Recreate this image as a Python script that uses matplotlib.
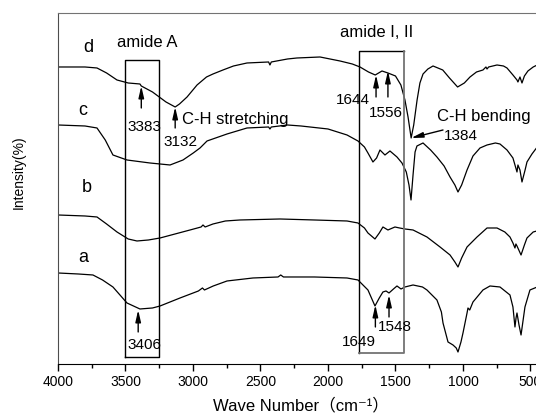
import matplotlib
matplotlib.use('Agg')
import matplotlib.pyplot as plt

plt.rcParams['font.family'] = ['Liberation Sans', 'DejaVu Sans', 'Noto Sans CJK SC']

# FTIR spectra, wavenumber (cm-1) and intensity (arbitrary units, offset per sample)
wn_d = [4000, 3800, 3711, 3640, 3563, 3480, 3393, 3383, 3300, 3200, 3132, 3100, 3044, 2970,
        2900, 2852, 2778, 2700, 2600, 2440, 2430, 2420, 2300, 2230, 2059, 1985, 1911, 1820,
        1763, 1700, 1650, 1600, 1556, 1500, 1460, 1430, 1407, 1384, 1365, 1340, 1319, 1296,
        1260, 1222, 1150, 1100, 1040, 990, 948, 900, 852, 830, 822, 810, 748, 700, 674, 630,
        600, 593, 578, 563, 545, 519, 480, 450, 400]
int_d = [297, 297, 296, 291, 284, 281, 280, 278, 272, 262, 257, 260, 267, 279,
         287, 290, 294, 298, 301, 302, 299, 302, 305, 306, 307, 305, 303, 300,
         297, 292, 289, 293, 291, 288, 279, 264, 247, 226, 239, 264, 281, 290,
         295, 298, 294, 286, 277, 281, 287, 292, 294, 297, 295, 297, 299, 298, 296, 289,
         284, 282, 287, 281, 288, 293, 297, 299, 300]

wn_c = [4000, 3800, 3711, 3650, 3593, 3489, 3319, 3170, 3074, 2998, 2948, 2896, 2748, 2600,
        2440, 2430, 2420, 2300, 2200, 2000, 1859, 1778, 1730, 1704, 1667, 1640, 1615, 1578,
        1541, 1489, 1452, 1420, 1400, 1385, 1370, 1355, 1341, 1296, 1240, 1193, 1140, 1096,
        1060, 1037, 1010, 970, 926, 874, 822, 760, 726, 674, 630, 600, 593, 578, 563, 540,
        526, 489, 450, 400]
int_c = [239, 238, 236, 224, 209, 204, 201, 199, 204, 211, 216, 223, 230, 236,
         237, 235, 237, 239, 238, 235, 229, 223, 217, 211, 202, 206, 214, 209,
         213, 207, 201, 192, 179, 164, 189, 212, 218, 221, 214, 207, 198, 187,
         179, 172, 179, 194, 208, 216, 219, 221, 220, 214, 206, 192, 199, 194, 182, 194,
         202, 210, 217, 222]

wn_b = [4000, 3800, 3711, 3640, 3563, 3480, 3415, 3330, 3244, 3022, 2940, 2926, 2910, 2852,
        2760, 2652, 2356, 2100, 1859, 1778, 1730, 1704, 1652, 1620, 1593, 1556, 1504, 1470,
        1430, 1370, 1267, 1170, 1096, 1060, 1037, 1010, 970, 896, 822, 748, 690, 652, 630,
        615, 608, 600, 570, 545, 526, 480, 400]
int_b = [149, 148, 147, 140, 132, 125, 123, 124, 126, 134, 137, 139, 137, 140,
         143, 144, 145, 144, 143, 141, 136, 131, 125, 131, 137, 134, 137, 136,
         135, 134, 127, 117, 109, 102, 97, 106, 117, 127, 136, 136, 132, 127, 121,
         116, 120, 118, 109, 119, 126, 132, 135]

wn_a = [4000, 3850, 3741, 3670, 3593, 3489, 3393, 3300, 3244, 3096, 2960, 2930, 2915, 2850,
        2748, 2556, 2370, 2350, 2330, 2100, 1859, 1778, 1704, 1652, 1620, 1593, 1570, 1548,
        1515, 1489, 1459, 1430, 1400, 1370, 1300, 1267, 1193, 1160, 1148, 1111, 1074, 1050,
        1037, 1015, 1000, 970, 963, 950, 926, 852, 800, 726, 652, 630, 615, 607, 600, 585,
        570, 541, 504, 450, 400]
int_a = [91, 90, 89, 84, 77, 61, 55, 56, 58, 66, 73, 76, 74, 78,
         83, 86, 87, 89, 87, 87, 86, 84, 74, 58, 66, 72, 73, 71,
         75, 78, 75, 77, 78, 79, 77, 74, 64, 52, 41, 22, 19, 16,
         12, 22, 31, 51, 56, 54, 62, 74, 78, 77, 69, 57, 37, 46, 51, 39,
         29, 57, 74, 77, 78]

spectra = [('a', wn_a, int_a), ('b', wn_b, int_b), ('c', wn_c, int_c), ('d', wn_d, int_d)]

fig = plt.figure(figsize=(5.36, 4.19), dpi=100)
ax = fig.add_axes([0.1082, 0.1313, 0.9067, 0.8377])

for name, wn, y in spectra:
    ax.plot(wn, y, color='k', lw=0.9)

ax.set_xlim(4000, 400)
ax.set_ylim(0, 351)
ax.set_yticks([])
ax.set_xticks([4000, 3500, 3000, 2500, 2000, 1500, 1000, 500])
ax.set_xticks(range(3750, 400, -500), minor=True)
ax.tick_params(axis='x', which='major', direction='out', length=5, width=1, labelsize=10, pad=3)
ax.tick_params(axis='x', which='minor', direction='out', length=3, width=1)
ax.spines['top'].set_color('0.45')
ax.spines['left'].set_color('0.3')
ax.spines['right'].set_visible(False)

ax.set_xlabel('Wave Number（cm⁻¹）', fontsize=12, labelpad=6)
fig.text(19 / 536, 1 - 172 / 419, 'Intensity(%)', rotation=90, fontsize=10,
         ha='center', va='center')

# sample labels
for txt, x, y in [('d', 3778, 316), ('c', 3815, 253), ('b', 3785, 176), ('a', 3815, 106)]:
    ax.text(x, y, txt, fontsize=13, ha='center', va='center')

# band boxes
ax.plot([3500, 3500, 3250, 3250, 3500], [7, 304, 304, 7, 7], color='k', lw=1)
ax.plot([1770, 1770, 1437], [11, 313, 313], color='k', lw=1)
ax.plot([1437, 1437, 1770], [313, 11, 11], color='0.45', lw=1.3)
ax.text(3341, 321, 'amide A', fontsize=12, ha='center', va='center')
ax.text(1637, 331, 'amide I, II', fontsize=12, ha='center', va='center')

arrow = dict(arrowstyle='-|>,head_length=0.7,head_width=0.16', color='k', lw=1,
             mutation_scale=10, shrinkA=0, shrinkB=0)

# peak markers: (text, text x, text y, arrow x, arrow start y, arrow end y)
peaks = [('3383', 3363, 237, 3383, 256, 278),
         ('3132', 3096, 222, 3132, 236, 257),
         ('1644', 1815, 264, 1644, 267, 289),
         ('1556', 1570, 251, 1556, 267, 293),
         ('3406', 3363, 19, 3406, 32, 54),
         ('1649', 1770, 22, 1649, 37, 59),
         ('1548', 1504, 37, 1548, 47, 69)]
for txt, tx, ty, px, y0, y1 in peaks:
    ax.annotate('', xy=(px, y1), xytext=(px, y0), arrowprops=arrow)
    ax.text(tx, ty, txt, fontsize=11, ha='center', va='center')

ax.text(3081, 244, 'C-H stretching', fontsize=12, ha='left', va='center')
ax.text(1193, 247, 'C-H bending', fontsize=12, ha='left', va='center')
ax.annotate('', xy=(1384, 226), xytext=(1148, 234), arrowprops=arrow)
ax.text(1015, 228, '1384', fontsize=11, ha='center', va='center')

fig.savefig('out.png', dpi=100)
